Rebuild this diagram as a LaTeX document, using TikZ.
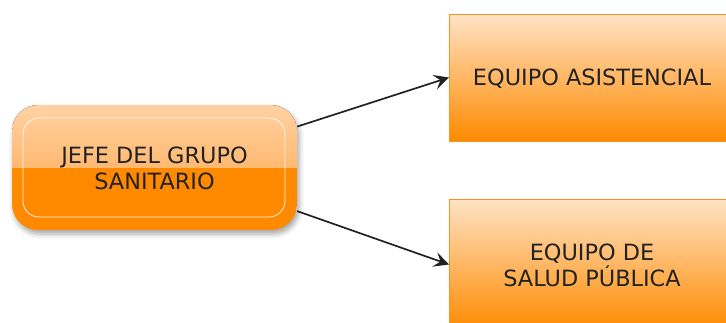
\documentclass[tikz,border=0pt]{standalone}
\usepackage{fontspec}
\setmainfont{DejaVu Sans}
\usetikzlibrary{arrows.meta,shadows.blur}
\definecolor{orgA}{HTML}{FF8A00}
\definecolor{orgTop}{HTML}{FFD2A2}
\definecolor{orgMid}{HTML}{FFA040}
\definecolor{boxTop}{HTML}{FFE3C6}
\definecolor{boxEdge}{HTML}{F5921E}
\definecolor{txt}{HTML}{222222}
\tikzset{
  lbl/.style={font=\fontsize{22.4}{26.5}\selectfont, text=txt, align=center},
  glossy/.style={rounded corners=26pt, blur shadow={shadow xshift=2pt, shadow yshift=-4pt, shadow blur radius=5pt, shadow opacity=35},
    path picture={
      \fill[sharp corners, top color=orgTop, bottom color=orgMid] (path picture bounding box.north west) rectangle (path picture bounding box.east);
      \fill[sharp corners, orgA] (path picture bounding box.west) rectangle (path picture bounding box.south east);
    }},
  teambox/.style={draw=boxEdge, line width=1pt, top color=boxTop, bottom color=orgA, inner sep=0pt},
  conn/.style={line width=1.7pt, draw=txt, -{Stealth[length=15pt,width=15pt,inset=6pt]}}
}
\begin{document}
\begin{tikzpicture}[x=1pt,y=-1pt]
\useasboundingbox (0,0) rectangle (726,322);
\clip (0,0) rectangle (726,322);
\node[glossy, minimum width=285pt, minimum height=125pt, inner sep=0pt] (jefe) at (154.5,167.5) {};
\draw[white, line width=0.8pt, rounded corners=16pt, opacity=0.85] (23,118) rectangle (285,217);
\node[lbl] (jefetxt) at (154.5,168.5) {JEFE DEL GRUPO\\SANITARIO};
\node[teambox, minimum width=285pt, minimum height=127pt] (eq1) at (592,77.5) {};
\node[lbl] (eq1txt) at (592,79) {EQUIPO ASISTENCIAL};
\node[teambox, minimum width=285pt, minimum height=131pt] (eq2) at (592,264.5) {};
\node[lbl] (eq2txt) at (592,265.5) {EQUIPO DE\\SALUD PÚBLICA};
\draw[conn] (jefe.16.6) -- (eq1.west);
\draw[conn] (jefe.-17.7) -- (eq2.west);
\end{tikzpicture}
\end{document}
